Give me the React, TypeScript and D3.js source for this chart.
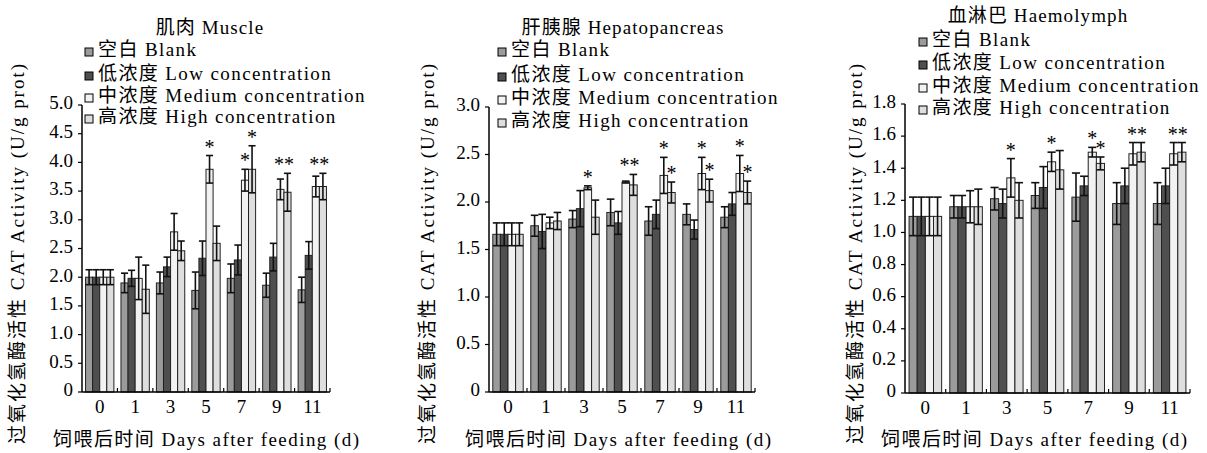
import * as d3 from "d3";

const days = ["0", "1", "3", "5", "7", "9", "11"];
const seriesNames = ["空白 Blank", "低浓度 Low concentration", "中浓度 Medium concentration", "高浓度 High concentration"];
const seriesColors = ["#9b9b9b", "#4f4f4f", "#f2f2f2", "#dedede"];

// 肌肉 Muscle
const muscleBlank = [2.0, 1.9, 1.9, 1.77, 1.98, 1.86, 1.78];
const muscleBlankErr = [0.13, 0.17, 0.19, 0.32, 0.25, 0.21, 0.22];
const muscleLow = [2.0, 1.98, 2.18, 2.33, 2.3, 2.35, 2.38];
const muscleLowErr = [0.13, 0.14, 0.17, 0.3, 0.26, 0.24, 0.24];
const muscleMedium = [2.0, 1.98, 2.79, 3.88, 3.69, 3.53, 3.58];
const muscleMediumErr = [0.13, 0.37, 0.32, 0.24, 0.19, 0.18, 0.18];
const muscleHigh = [2.0, 1.79, 2.46, 2.59, 3.88, 3.48, 3.58];
const muscleHighErr = [0.13, 0.42, 0.17, 0.3, 0.41, 0.33, 0.23];
const muscleSigMedium = ["", "", "", "*", "*", "*", "*"];
const muscleSigHigh = ["", "", "", "", "*", "*", "*"];

// 肝胰腺 Hepatopancreas
const hepBlank = [1.66, 1.75, 1.82, 1.89, 1.8, 1.87, 1.84];
const hepBlankErr = [0.12, 0.11, 0.09, 0.14, 0.15, 0.11, 0.11];
const hepLow = [1.66, 1.69, 1.93, 1.78, 1.87, 1.71, 1.98];
const hepLowErr = [0.12, 0.18, 0.19, 0.12, 0.15, 0.1, 0.12];
const hepMedium = [1.66, 1.78, 2.15, 2.21, 2.28, 2.3, 2.3];
const hepMediumErr = [0.12, 0.06, 0.02, 0.01, 0.19, 0.17, 0.19];
const hepHigh = [1.66, 1.8, 1.84, 2.18, 2.1, 2.12, 2.1];
const hepHighErr = [0.12, 0.09, 0.18, 0.11, 0.11, 0.12, 0.12];
const hepSigMedium = ["", "", "*", "*", "*", "*", "*"];
const hepSigHigh = ["", "", "", "*", "*", "*", "*"];

// 血淋巴 Haemolymph
const haeBlank = [1.1, 1.16, 1.21, 1.23, 1.22, 1.18, 1.18];
const haeBlankErr = [0.12, 0.07, 0.07, 0.08, 0.15, 0.13, 0.13];
const haeLow = [1.1, 1.16, 1.18, 1.28, 1.29, 1.29, 1.29];
const haeLowErr = [0.12, 0.07, 0.09, 0.13, 0.06, 0.11, 0.11];
const haeMedium = [1.1, 1.16, 1.34, 1.44, 1.5, 1.49, 1.49];
const haeMediumErr = [0.12, 0.1, 0.12, 0.06, 0.03, 0.07, 0.07];
const haeHigh = [1.1, 1.16, 1.2, 1.39, 1.43, 1.5, 1.5];
const haeHighErr = [0.12, 0.11, 0.11, 0.12, 0.04, 0.06, 0.06];
const haeSigMedium = ["", "", "*", "*", "*", "*", "*"];
const haeSigHigh = ["", "", "", "", "*", "*", "*"];

const yLabel = "过氧化氢酶活性 CAT Activity (U/g prot)";
const xLabel = "饲喂后时间 Days after feeding (d)";
const FONT = "'Liberation Serif', 'Times New Roman', 'Noto Sans CJK SC', serif";

interface PanelProps {
  title: string;
  values: number[][];
  errors: number[][];
  sig: string[][]; // medium, high; "" = not significant
  yMax: number;
  yStep: number;
  x0: number;
  x1: number;
  yTop: number;
  yBottom: number;
  titleX: number;
  titleY: number;
  legendX: number;
  legendRows: number[];
  yLabelX: number;
  xLabelX: number;
}

function Panel(p: PanelProps) {
  const x = d3.scaleBand<string>().domain(days).range([p.x0, p.x1]).paddingInner(0.2).paddingOuter(0.1);
  const inner = d3.scaleBand<number>().domain([0, 1, 2, 3]).range([0, x.bandwidth()]);
  const y = d3.scaleLinear().domain([0, p.yMax]).range([p.yBottom, p.yTop]);
  const ticks = d3.range(0, p.yMax + p.yStep / 2, p.yStep);
  const fmt = (v: number) => (v === 0 ? "0" : d3.format(".1f")(v));
  const step = x.step();
  const barCx = (d: number, s: number) => (x(days[d]) ?? 0) + (inner(s) ?? 0) + inner.bandwidth() / 2;
  const errTop = (d: number, s: number) => y(p.values[s][d] + p.errors[s][d]);

  // significance marks: medium (s=2) and high (s=3); merge into "**" when both sit at about the same height
  const marks: { key: string; x: number; y: number; t: string }[] = [];
  days.forEach((_, d) => {
    const m = p.sig[0][d];
    const h = p.sig[1][d];
    if (m && h && Math.abs(errTop(d, 2) - errTop(d, 3)) < 8) {
      marks.push({ key: `mh${d}`, x: (barCx(d, 2) + barCx(d, 3)) / 2, y: Math.min(errTop(d, 2), errTop(d, 3)) - 2, t: m + h });
      return;
    }
    if (m) marks.push({ key: `m${d}`, x: barCx(d, 2), y: errTop(d, 2) - 2, t: m });
    if (h) marks.push({ key: `h${d}`, x: barCx(d, 3), y: errTop(d, 3) - 2, t: h });
  });

  return (
    <g fontFamily={FONT}>
      <text x={p.titleX} y={p.titleY} textAnchor="middle" fontSize={19} letterSpacing={1.1} dominantBaseline="middle">
        {p.title}
      </text>
      {seriesNames.map((name, i) => (
        <g key={name}>
          <rect x={p.legendX} y={p.legendRows[i] - 4} width={8} height={8} fill={seriesColors[i]} stroke="#000" strokeWidth={1} />
          <text x={p.legendX + 13} y={p.legendRows[i]} fontSize={19} dominantBaseline="middle" letterSpacing={1.4}>
            {name}
          </text>
        </g>
      ))}

      {/* bars */}
      {p.values.map((vals, s) =>
        vals.map((v, d) => (
          <rect
            key={`b${s}-${d}`}
            x={(x(days[d]) ?? 0) + (inner(s) ?? 0)}
            y={y(v)}
            width={inner.bandwidth()}
            height={y(0) - y(v)}
            fill={seriesColors[s]}
            stroke="#222"
            strokeWidth={1}
          />
        ))
      )}

      {/* error bars */}
      {p.values.map((vals, s) =>
        vals.map((v, d) => {
          const cx = barCx(d, s);
          const e = p.errors[s][d];
          const hw = inner.bandwidth() / 2;
          return (
            <g key={`e${s}-${d}`} stroke="#111" strokeWidth={1.6}>
              <line x1={cx} x2={cx} y1={y(v - e)} y2={y(v + e)} />
              <line x1={cx - hw} x2={cx + hw} y1={y(v + e)} y2={y(v + e)} />
              <line x1={cx - hw} x2={cx + hw} y1={y(v - e)} y2={y(v - e)} />
            </g>
          );
        })
      )}

      {marks.map((mk) => (
        <text key={mk.key} x={mk.x} y={mk.y} textAnchor="middle" fontSize={20}>
          {mk.t}
        </text>
      ))}

      {/* axes */}
      <line x1={p.x0} x2={p.x0} y1={p.yTop} y2={p.yBottom} stroke="#000" strokeWidth={1.5} />
      <line x1={p.x0} x2={p.x1} y1={p.yBottom} y2={p.yBottom} stroke="#000" strokeWidth={1.5} />
      {ticks.map((t) => (
        <g key={`t${t}`}>
          <line x1={p.x0 - 4} x2={p.x0} y1={y(t)} y2={y(t)} stroke="#000" strokeWidth={1.2} />
          <text x={p.x0 - 9} y={y(t)} textAnchor="end" dominantBaseline="middle" fontSize={19}>
            {fmt(t)}
          </text>
        </g>
      ))}
      {days.slice(1).map((d) => {
        const bx = (x(d) ?? 0) - (step - x.bandwidth()) / 2;
        return <line key={`xt${d}`} x1={bx} x2={bx} y1={p.yBottom} y2={p.yBottom - 4} stroke="#000" strokeWidth={1.2} />;
      })}
      <line x1={p.x1} x2={p.x1} y1={p.yBottom} y2={p.yBottom - 4} stroke="#000" strokeWidth={1.2} />
      {days.map((d) => (
        <text key={`xl${d}`} x={(x(d) ?? 0) + x.bandwidth() / 2} y={p.yBottom + 17} textAnchor="middle" dominantBaseline="middle" fontSize={19}>
          {d}
        </text>
      ))}

      <text x={p.xLabelX} y={442} textAnchor="middle" dominantBaseline="middle" fontSize={19} textLength={306} lengthAdjust="spacing">
        {xLabel}
      </text>
      <text
        transform={`translate(${p.yLabelX},254) rotate(-90)`}
        textAnchor="middle"
        dominantBaseline="middle"
        fontSize={19}
        textLength={380}
        lengthAdjust="spacing"
      >
        {yLabel}
      </text>
    </g>
  );
}

export default function App() {
  return (
    <div style={{ position: "absolute", left: 0, top: 0 }}>
      <svg width={1207} height={453} style={{ display: "block", background: "#fff" }}>
        <Panel
          title="肌肉 Muscle"
          values={[muscleBlank, muscleLow, muscleMedium, muscleHigh]}
          errors={[muscleBlankErr, muscleLowErr, muscleMediumErr, muscleHighErr]}
          sig={[muscleSigMedium, muscleSigHigh]}
          yMax={5}
          yStep={0.5}
          x0={82}
          x1={330}
          yTop={105}
          yBottom={392}
          titleX={210}
          titleY={30}
          legendX={85}
          legendRows={[52, 76, 98, 119]}
          yLabelX={20}
          xLabelX={206}
        />
        <Panel
          title="肝胰腺 Hepatopancreas"
          values={[hepBlank, hepLow, hepMedium, hepHigh]}
          errors={[hepBlankErr, hepLowErr, hepMediumErr, hepHighErr]}
          sig={[hepSigMedium, hepSigHigh]}
          yMax={3}
          yStep={0.5}
          x0={489}
          x1={755}
          yTop={107}
          yBottom={392}
          titleX={623}
          titleY={30}
          legendX={498}
          legendRows={[52, 77, 100, 123]}
          yLabelX={430}
          xLabelX={618}
        />
        <Panel
          title="血淋巴 Haemolymph"
          values={[haeBlank, haeLow, haeMedium, haeHigh]}
          errors={[haeBlankErr, haeLowErr, haeMediumErr, haeHighErr]}
          sig={[haeSigMedium, haeSigHigh]}
          yMax={1.8}
          yStep={0.2}
          x0={905}
          x1={1190}
          yTop={104}
          yBottom={393}
          titleX={1038}
          titleY={18}
          legendX={919}
          legendRows={[42, 65, 88, 110]}
          yLabelX={858}
          xLabelX={1034}
        />
      </svg>
    </div>
  );
}
